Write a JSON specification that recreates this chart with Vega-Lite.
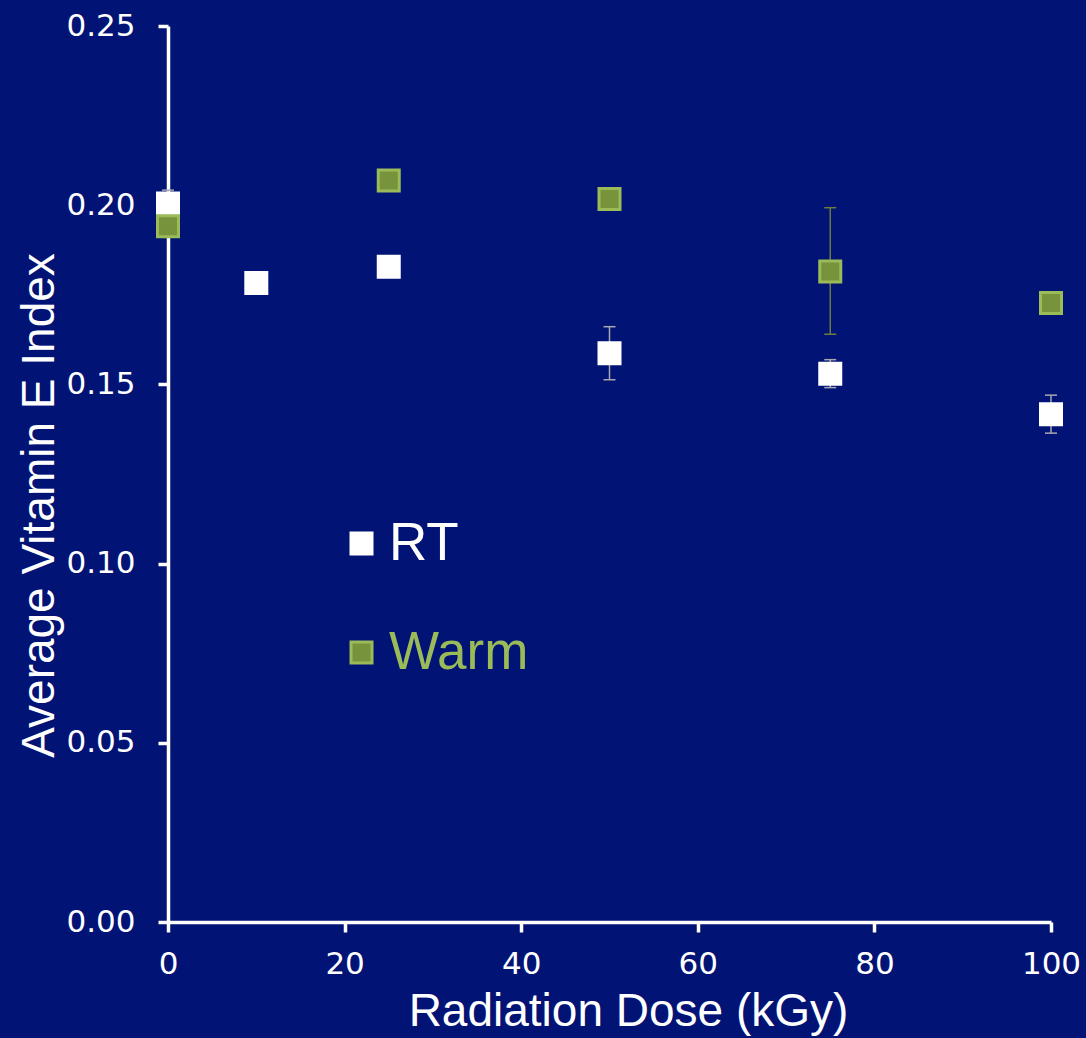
{
  "$schema": "https://vega.github.io/schema/vega-lite/v6.json",
  "autosize": {"type": "none"},
  "width": 883,
  "height": 896,
  "padding": {"left": 168, "top": 26, "right": 35, "bottom": 116},
  "background": "#011375",
  "config": {
    "view": {"stroke": null},
    "font": "Liberation Sans",
    "axis": {
      "domainColor": "#ffffff",
      "domainWidth": 3.5,
      "tickColor": "#ffffff",
      "tickWidth": 3.5,
      "tickSize": 10,
      "grid": false,
      "labelColor": "#ffffff",
      "labelFont": "DejaVu Sans",
      "labelFontSize": 31,
      "titleColor": "#ffffff",
      "titleFont": "Liberation Sans",
      "titleFontSize": 46,
      "titleFontWeight": "normal"
    }
  },
  "datasets": {
    "points": [
      {"dose": 0, "series": "RT", "value": 0.2005},
      {"dose": 10, "series": "RT", "value": 0.1783},
      {"dose": 25, "series": "RT", "value": 0.1828},
      {"dose": 50, "series": "RT", "value": 0.1587},
      {"dose": 75, "series": "RT", "value": 0.1530},
      {"dose": 100, "series": "RT", "value": 0.1417},
      {"dose": 0, "series": "Warm", "value": 0.1941},
      {"dose": 25, "series": "Warm", "value": 0.2069},
      {"dose": 50, "series": "Warm", "value": 0.2017},
      {"dose": 75, "series": "Warm", "value": 0.1815},
      {"dose": 100, "series": "Warm", "value": 0.1727}
    ],
    "errors": [
      {"dose": 0, "series": "RT", "lo": 0.1965, "hi": 0.2042},
      {"dose": 50, "series": "RT", "lo": 0.1513, "hi": 0.1661},
      {"dose": 75, "series": "RT", "lo": 0.1491, "hi": 0.1569},
      {"dose": 100, "series": "RT", "lo": 0.1364, "hi": 0.1470},
      {"dose": 75, "series": "Warm", "lo": 0.1640, "hi": 0.1993}
    ]
  },
  "layer": [
    {
      "data": {"name": "errors"},
      "mark": {"type": "rule", "strokeWidth": 1.5},
      "encoding": {
        "x": {"field": "dose", "type": "quantitative"},
        "y": {"field": "lo", "type": "quantitative"},
        "y2": {"field": "hi"},
        "color": {"condition": {"test": "datum.series === 'RT'", "value": "#A8A8B0"}, "value": "#6B7B3C"}
      }
    },
    {
      "data": {"name": "errors"},
      "mark": {"type": "tick", "orient": "horizontal", "size": 12, "thickness": 1.5, "opacity": 1},
      "encoding": {
        "x": {"field": "dose", "type": "quantitative"},
        "y": {"field": "lo", "type": "quantitative"},
        "color": {"condition": {"test": "datum.series === 'RT'", "value": "#A8A8B0"}, "value": "#6B7B3C"}
      }
    },
    {
      "data": {"name": "errors"},
      "mark": {"type": "tick", "orient": "horizontal", "size": 12, "thickness": 1.5, "opacity": 1},
      "encoding": {
        "x": {"field": "dose", "type": "quantitative"},
        "y": {"field": "hi", "type": "quantitative"},
        "color": {"condition": {"test": "datum.series === 'RT'", "value": "#A8A8B0"}, "value": "#6B7B3C"}
      }
    },
    {
      "data": {"name": "points"},
      "mark": {"type": "point", "shape": "square", "filled": true, "size": 441, "strokeWidth": 3, "opacity": 1},
      "encoding": {
        "x": {
          "field": "dose", "type": "quantitative",
          "scale": {"domain": [0, 100], "nice": false, "zero": false},
          "axis": {
            "values": [0, 20, 40, 60, 80, 100],
            "title": "Radiation Dose (kGy)",
            "labelBaseline": "alphabetic",
            "labelPadding": 41,
            "titleBaseline": "alphabetic",
            "titleX": 460,
            "titleY": 103,
            "titleAlign": "center",
            "labelFlush": false,
            "labelOverlap": false
          }
        },
        "y": {
          "field": "value", "type": "quantitative",
          "scale": {"domain": [0, 0.25], "nice": false},
          "axis": {
            "values": [0, 0.05, 0.1, 0.15, 0.2, 0.25],
            "format": ".2f",
            "title": "Average Vitamin E Index",
            "labelPadding": 23,
            "labelBaseline": "middle",
            "titleBaseline": "alphabetic",
            "titleAngle": -90,
            "titleX": -115,
            "titleY": 479,
            "titleAlign": "center",
            "labelFlush": false,
            "labelOverlap": false
          }
        },
        "fill": {
          "field": "series", "type": "nominal",
          "scale": {"domain": ["RT", "Warm"], "range": ["#ffffff", "#77933C"]},
          "legend": {
            "title": null,
            "orient": "none",
            "legendX": 167,
            "legendY": 491,
            "padding": 0,
            "symbolType": "square",
            "symbolSize": 441,
            "symbolStrokeWidth": 3,
            "labelFontSize": 53,
            "labelFont": "Liberation Sans",
            "labelColor": {"expr": "datum.value === 'RT' ? '#ffffff' : '#9BBB59'"},
            "labelOffset": 1,
            "rowPadding": 55
          }
        },
        "stroke": {
          "field": "series", "type": "nominal",
          "scale": {"domain": ["RT", "Warm"], "range": ["#ffffff", "#9BBB59"]},
          "legend": {
            "title": null,
            "orient": "none",
            "legendX": 167,
            "legendY": 491,
            "padding": 0,
            "symbolType": "square",
            "symbolSize": 441,
            "symbolStrokeWidth": 3,
            "labelFontSize": 53,
            "labelFont": "Liberation Sans",
            "labelColor": {"expr": "datum.value === 'RT' ? '#ffffff' : '#9BBB59'"},
            "labelOffset": 1,
            "rowPadding": 55
          }
        }
      }
    }
  ]
}
